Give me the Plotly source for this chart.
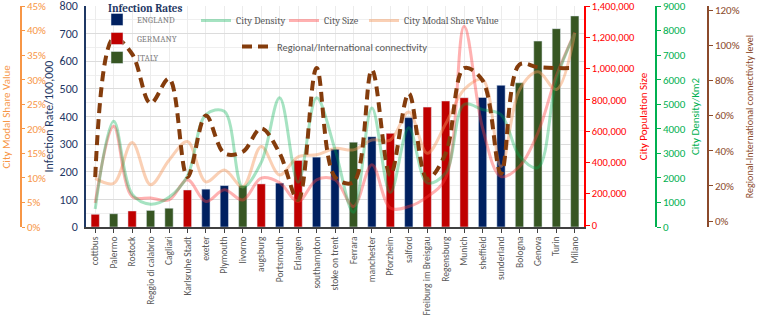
import plotly.graph_objects as go

cities = ["cottbus", "Palermo", "Rostock", "Reggio di calabrio", "Cagliari", "Karlsruhe Stadt",
          "exeter", "Plymouth", "livorno", "augsburg", "Portsmouth", "Erlangen", "southampton",
          "stoke on trent", "Ferrara", "manchester", "Pforzheim", "salford", "Freiburg im Breisgau",
          "Regensburg", "Munich", "sheffield", "sunderland", "Bologna", "Genova", "Turin", "Milano"]
country = ["G", "I", "G", "I", "I", "G", "E", "E", "I", "G", "E", "G", "E", "E", "I", "E", "G",
           "E", "G", "G", "G", "E", "E", "I", "I", "I", "I"]
infection_rate = [46, 48, 58, 60, 68, 134, 137, 150, 150, 156, 159, 241, 253, 282, 307, 327, 339,
                  396, 434, 456, 468, 469, 513, 522, 673, 718, 764]
city_density = [730, 4310, 1340, 930, 1215, 2080, 4580, 4710, 1620, 2630, 5260, 1820, 5260, 3160,
                600, 4850, 1400, 4040, 1800, 2200, 4990, 4780, 4580, 2890, 2420, 6000, 7890]
city_size = [140000, 631000, 182000, 173000, 160000, 289000, 150000, 225000, 160000, 300000,
             270000, 150000, 289000, 289000, 118000, 385000, 109000, 118000, 180000, 300000,
             1270000, 620000, 310000, 374000, 589000, 953000, 1230000]
modal_share = [9.9, 8.9, 17.2, 8.6, 13.6, 17.4, 9.2, 11.6, 8.2, 16.4, 10.6, 14.3, 14.7, 16.0, 15.7,
               17.7, 17.7, 23.4, 15.0, 21.0, 28.0, 30.0, 12.3, 27.9, 31.6, 28.0, 39.5]
connectivity = [25, 104, 95, 67, 81, 25, 60, 38.5, 39.4, 52.7, 38.5, 12, 87, 25, 22, 86, 26, 72.6,
                24, 38.5, 87, 80, 27, 89, 87.5, 87, 87]

country_names = {"E": "ENGLAND", "G": "GERMANY", "I": "ITALY"}
bar_colors = {"E": "#002060", "G": "#C00000", "I": "#375623"}

W, H = 758, 317
PLOT_L, PLOT_R, PLOT_T, PLOT_B = 86, 584, 6, 227


def fx(px):
    return px / W


def fy(py):
    return 1 - (py - PLOT_T) / (PLOT_B - PLOT_T)


sans = "Carlito, Lato, sans-serif"
serif = "Cambria, Liberation Serif, DejaVu Serif, serif"

fig = go.Figure()

for code in ["E", "G", "I"]:
    fig.add_trace(go.Bar(
        x=cities,
        y=[v if c == code else None for v, c in zip(infection_rate, country)],
        name=country_names[code], marker_color=bar_colors[code], width=0.45,
        legend="legend", yaxis="y"))

fig.add_trace(go.Scatter(x=cities, y=modal_share, name="City Modal Share Value", mode="lines",
                         line=dict(color="rgba(244,150,90,0.45)", width=3, shape="spline", smoothing=1),
                         yaxis="y2", legend="legend5"))
fig.add_trace(go.Scatter(x=cities, y=city_size, name="City Size", mode="lines",
                         line=dict(color="rgba(255,60,60,0.4)", width=3, shape="spline", smoothing=1),
                         yaxis="y3", legend="legend4"))
fig.add_trace(go.Scatter(x=cities, y=city_density, name="City Density", mode="lines",
                         line=dict(color="rgba(0,176,80,0.35)", width=3, shape="spline", smoothing=1),
                         yaxis="y4", legend="legend2"))
fig.add_trace(go.Scatter(x=cities, y=connectivity, name="Regional/International connectivity",
                         mode="lines",
                         line=dict(color="#843C0C", width=4, dash="10px,6px", shape="spline", smoothing=1),
                         yaxis="y5", legend="legend3"))


def side_legend(x_px, y_px, font):
    return dict(x=fx(x_px), y=fy(y_px), xanchor="left", yanchor="top", orientation="h",
                bgcolor="rgba(0,0,0,0)", font=font)


serif_font = dict(family=serif, size=10, color="#595959")

fig.update_layout(
    width=W, height=H, margin=dict(l=0, r=0, t=PLOT_T, b=H - PLOT_B),
    paper_bgcolor="white", plot_bgcolor="white",
    barmode="overlay", showlegend=True,
    xaxis=dict(domain=[PLOT_L / W, PLOT_R / W], type="category", tickangle=-90, automargin=False,
               tickfont=dict(family=sans, size=9.5, color="#595959"),
               showline=True, linecolor="#404040", linewidth=1.5, ticks="outside", ticklen=4,
               tickcolor="#404040", showgrid=True, gridcolor="#ececec", anchor="y"),
    xaxis2=dict(overlaying="x", range=[-0.5, len(cities) - 0.5], tick0=0.5, dtick=1,
                showticklabels=False, showgrid=True, gridcolor="#dcdcdc", anchor="y",
                zeroline=False, showline=False),
    yaxis=dict(range=[0, 800], dtick=100, showline=True, linecolor="#1F3864", linewidth=1.5,
               ticks="outside", ticklen=4, tickcolor="rgba(0,0,0,0)", automargin=False,
               ticklabeloverflow="allow",
               tickfont=dict(family=sans, size=12, color="#1F3864"),
               title=dict(text="Infection Rate/100,000", font=dict(family=sans, size=12, color="#1F3864"),
                          standoff=3),
               showgrid=True, gridcolor="#dcdcdc",
               minor=dict(dtick=50, showgrid=True, gridcolor="#efefef"), zeroline=False),
    yaxis2=dict(overlaying="y", anchor="free", position=fx(21), side="right", range=[0, 45], dtick=5,
                ticksuffix="%", showline=True, linecolor="#F79646", ticklabeloverflow="allow",
                linewidth=1.5, ticks="outside", ticklen=3, tickcolor="#F79646", automargin=False,
                tickfont=dict(family=sans, size=11, color="#F79646"), showgrid=False, zeroline=False),
    yaxis3=dict(overlaying="y", anchor="x", side="right", range=[-12800, 1400000], dtick=200000,
                tickformat=",", showline=True, linecolor="#FF0000", linewidth=1.5, ticks="outside",
                ticklen=4, tickcolor="#FF0000", automargin=False, showgrid=False, zeroline=False,
                ticklabeloverflow="allow",
                tickfont=dict(family=sans, size=10.5, color="#FF0000"),
                title=dict(text="City Population Size", font=dict(family=sans, size=11, color="#FF0000"),
                           standoff=5)),
    yaxis4=dict(overlaying="y", anchor="free", position=fx(656), side="right", range=[0, 9000],
                dtick=1000, showline=True, linecolor="#00B050", linewidth=1.5, ticks="outside",
                ticklen=4, tickcolor="#00B050", automargin=False, showgrid=False, zeroline=False,
                ticklabeloverflow="allow",
                tickfont=dict(family=sans, size=11, color="#00B050"),
                title=dict(text="City Density/Km2", font=dict(family=sans, size=11, color="#00B050"),
                           standoff=6)),
    yaxis5=dict(overlaying="y", anchor="free", position=fx(708), side="right", range=[-3.4, 122.3],
                tick0=0, dtick=20, ticksuffix="%", showline=True, linecolor="#8B4A2B", linewidth=1.5,
                ticks="outside", ticklen=4, tickcolor="#8B4A2B", automargin=False, showgrid=False,
                ticklabeloverflow="allow",
                zeroline=False, tickfont=dict(family=sans, size=11, color="#8B4A2B"),
                title=dict(text="Regional-International connectivity level",
                           font=dict(family=sans, size=10, color="#8B4A2B"), standoff=6)),
    legend=dict(x=fx(97), y=fy(5), xanchor="left", yanchor="top", bgcolor="rgba(0,0,0,0)",
                font=dict(family=serif, size=9, color="#7F7F7F"), tracegroupgap=2, traceorder="normal"),
    legend2=side_legend(196, 6, serif_font),
    legend4=side_legend(284, 6, serif_font),
    legend5=side_legend(364, 6, serif_font),
    legend3=side_legend(237, 32, dict(family=sans, size=10.5, color="#595959")),
    annotations=[
        dict(text="<b>Infection Rates</b>", xref="paper", yref="paper", x=fx(106), y=fy(0),
             xanchor="left", yanchor="top", showarrow=False,
             font=dict(family=serif, size=11, color="#1F3864")),
        dict(text="City Modal Share Value", xref="paper", yref="paper", x=fx(6), y=0.5,
             xanchor="center", yanchor="middle", textangle=-90, showarrow=False,
             font=dict(family=sans, size=11, color="#F79646")),
    ],
)

fig.write_html("out.html", config={"displayModeBar": False},
               post_script="document.body.style.margin='0px';")
